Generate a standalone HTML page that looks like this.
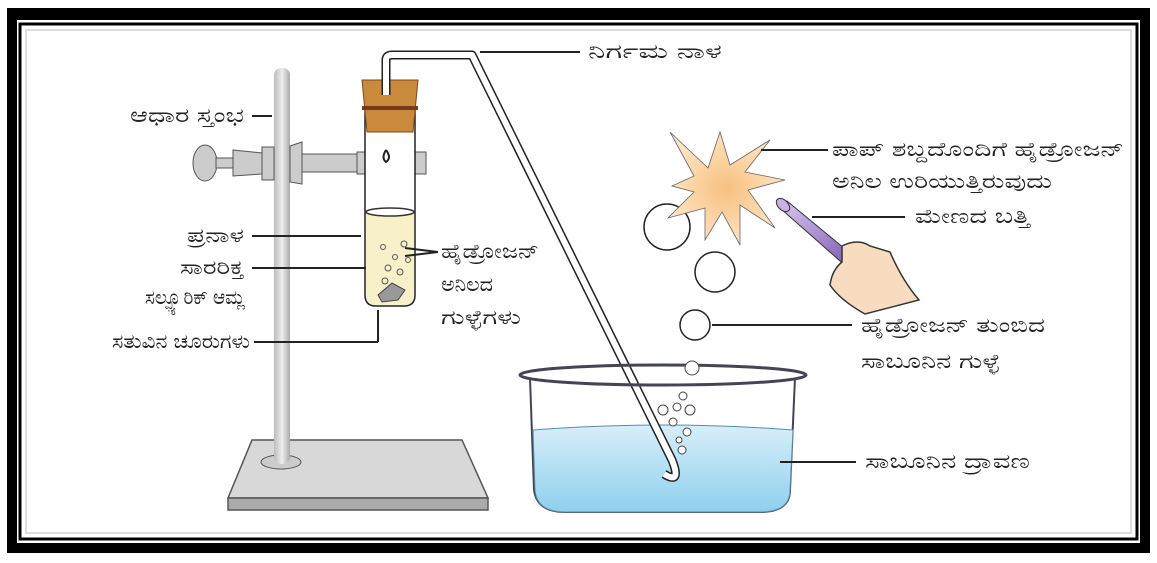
<!DOCTYPE html>
<html><head><meta charset="utf-8"><style>
html,body{margin:0;padding:0;background:#fff;}
svg{display:block}
text{font-family:"Liberation Sans","Noto Sans CJK SC",sans-serif;font-size:20px;fill:#222}
</style></head><body>
<svg width="1157" height="563" viewBox="0 0 1157 563" xmlns="http://www.w3.org/2000/svg">
<defs>
<linearGradient id="rod" x1="0" x2="1"><stop offset="0" stop-color="#bbb"/><stop offset=".5" stop-color="#eee"/><stop offset="1" stop-color="#aaa"/></linearGradient>
<linearGradient id="water" x1="0" y1="0" x2="0" y2="1"><stop offset="0" stop-color="#d8eefa"/><stop offset="1" stop-color="#8fd0ee"/></linearGradient>
<radialGradient id="flash"><stop offset="0" stop-color="#f8c080"/><stop offset="1" stop-color="#fde4c0"/></radialGradient>
<linearGradient id="candle" x1="0" y1="0" x2="1" y2="1"><stop offset="0" stop-color="#d8c8f0"/><stop offset="1" stop-color="#7a55b0"/></linearGradient>
</defs>
<rect x="7" y="8" width="1143" height="545" fill="#000"/>
<rect x="17" y="20" width="1123" height="523" fill="#fff"/>
<rect x="20" y="24" width="1117" height="515" fill="none" stroke="#000" stroke-width="3"/>
<rect x="26" y="30" width="1105" height="503" fill="#fff" stroke="#ddd" stroke-width="2"/>

<polygon points="252,440 462,440 488,498 228,498" fill="#d8d8d8" stroke="#555" stroke-width="1.5"/>
<polygon points="228,498 488,498 488,510 228,510" fill="#aaa" stroke="#555" stroke-width="1.5"/>
<ellipse cx="281" cy="462" rx="20" ry="7" fill="#ccc" stroke="#555"/>
<rect x="274" y="68" width="16" height="396" rx="7" fill="url(#rod)"/>
<ellipse cx="205" cy="163" rx="12" ry="18" fill="#ccc" stroke="#555"/>
<rect x="216" y="158" width="18" height="10" fill="#ccc" stroke="#555"/>
<polygon points="233,150 262,153 262,174 233,176" fill="#ccc" stroke="#555"/>
<polygon points="262,147 274,147 274,180 262,180" fill="#ccc" stroke="#555"/>
<polygon points="290,146 302,142 302,184 290,182" fill="#ccc" stroke="#555"/>
<rect x="302" y="154" width="55" height="18" fill="#ccc" stroke="#555"/>
<rect x="357" y="152" width="9" height="22" fill="#ccc" stroke="#555"/>
<rect x="414" y="152" width="12" height="22" fill="#ccc" stroke="#555"/>
<path d="M365,100 V295 Q365,306 376,306 H404 Q415,306 415,295 V100" fill="#fff" stroke="#222" stroke-width="1.5"/>
<path d="M366,212 V295 Q366,305 376,305 H404 Q414,305 414,295 V212 Z" fill="#f7f0c8"/>
<ellipse cx="390" cy="212" rx="24" ry="4" fill="#fff" stroke="#333" stroke-width="1.5"/>
<g fill="none" stroke="#555"><circle cx="383" cy="247" r="2.5"/><circle cx="395" cy="257" r="2.5"/><circle cx="404" cy="244" r="3"/><circle cx="388" cy="268" r="3"/><circle cx="400" cy="272" r="3"/><circle cx="385" cy="281" r="3"/><circle cx="408" cy="260" r="2.5"/></g>
<polygon points="378,295 392,283 405,290 398,300 382,302" fill="#999" stroke="#444"/>
<polygon points="362,80 418,80 413,132 367,132" fill="#c98a3c" stroke="#7a4a1a"/>
<rect x="362" y="106" width="56" height="4" fill="#7a3a1a"/>
<path d="M386,150 q-5,8 0,12 q6,-4 0,-12" fill="none" stroke="#222" stroke-width="2"/>
<path d="M530,378 L534,490 Q537,512 565,512 H760 Q790,512 790,490 L795,378" fill="#fff" stroke="#445" stroke-width="2"/>
<path d="M533,430 Q660,420 793,430 L790,490 Q790,512 760,512 H565 Q537,512 535,490 Z" fill="url(#water)" stroke="#5a8ca8"/>
<g fill="#fff" stroke="#444"><circle cx="663" cy="410" r="5"/><circle cx="677" cy="407" r="4"/><circle cx="690" cy="410" r="5"/><circle cx="673" cy="422" r="4"/><circle cx="687" cy="432" r="4"/><circle cx="679" cy="440" r="3"/><circle cx="682" cy="450" r="4"/><circle cx="683" cy="396" r="4"/></g>
<path d="M386,95 V60 Q386,55 392,55 H472 L672,460 Q682,485 664,474" fill="none" stroke="#222" stroke-width="9" stroke-linejoin="round"/>
<path d="M386,95 V60 Q386,55 392,55 H472 L672,460 Q682,485 664,474" fill="none" stroke="#fff" stroke-width="6" stroke-linejoin="round"/>
<ellipse cx="663" cy="375" rx="143" ry="10" fill="none" stroke="#445" stroke-width="3"/>
<circle cx="692" cy="368" r="7" fill="#fff" stroke="#444"/>
<g fill="none" stroke="#222" stroke-width="1.5"><circle cx="667" cy="227" r="23"/><circle cx="715" cy="272" r="20"/><circle cx="695" cy="325" r="15"/></g>
<polygon points="670,132 708,168 720,132 730,165 770,140 745,172 785,180 748,190 775,228 740,205 740,245 722,212 705,240 705,208 668,218 694,192 672,186 694,176" fill="url(#flash)" stroke="#666" stroke-width="0.8"/>
<polygon points="780,208 787,201 856,258 848,268" fill="url(#candle)" stroke="#333"/>
<ellipse cx="783" cy="205" rx="5" ry="8" transform="rotate(-45 783 205)" fill="#c8b0e8" stroke="#333"/>
<path d="M842,246 Q858,238 870,246 L890,252 Q902,280 919,300 L865,314 Q840,300 830,285 Q832,270 842,262 Z" fill="#f8dcc0" stroke="#333" stroke-width="1.5"/>
<g stroke="#222" stroke-width="2" fill="none">
<line x1="252" y1="116" x2="272" y2="116"/>
<line x1="480" y1="52" x2="580" y2="52"/>
<line x1="252" y1="236" x2="361" y2="236"/>
<line x1="252" y1="268" x2="366" y2="268"/>
<line x1="254" y1="342" x2="378" y2="342"/><line x1="378" y1="342" x2="378" y2="310"/>
<line x1="405" y1="248" x2="438" y2="252"/><line x1="405" y1="256" x2="438" y2="252"/>
<line x1="761" y1="150" x2="828" y2="150"/>
<line x1="812" y1="217" x2="905" y2="217"/>
<line x1="712" y1="325" x2="852" y2="325"/>
<line x1="780" y1="462" x2="856" y2="462"/>
</g>
<g>
<text x="130" y="122" textLength="114" lengthAdjust="spacingAndGlyphs">ಆಧಾರ ಸ್ತಂಭ</text>
<text x="588" y="58" textLength="134" lengthAdjust="spacingAndGlyphs">ನಿರ್ಗಮ ನಾಳ</text>
<text x="187" y="242" textLength="57" lengthAdjust="spacingAndGlyphs">ಪ್ರನಾಳ</text>
<text x="180" y="274" textLength="64" lengthAdjust="spacingAndGlyphs">ಸಾರರಿಕ್ತ</text>
<text x="145" y="304" textLength="100" lengthAdjust="spacingAndGlyphs">ಸಲ್ಫ್ಯೂರಿಕ್ ಆಮ್ಲ</text>
<text x="112" y="348" textLength="138" lengthAdjust="spacingAndGlyphs">ಸತುವಿನ ಚೂರುಗಳು</text>
<text x="441" y="258" textLength="98" lengthAdjust="spacingAndGlyphs">ಹೈಡ್ರೋಜನ್</text>
<text x="441" y="291" textLength="52" lengthAdjust="spacingAndGlyphs">ಅನಿಲದ</text>
<text x="441" y="324" textLength="80" lengthAdjust="spacingAndGlyphs">ಗುಳ್ಳೆಗಳು</text>
<text x="832" y="156" textLength="292" lengthAdjust="spacingAndGlyphs">ಪಾಪ್ ಶಬ್ದದೊಂದಿಗೆ ಹೈಡ್ರೋಜನ್</text>
<text x="832" y="188" textLength="220" lengthAdjust="spacingAndGlyphs">ಅನಿಲ ಉರಿಯುತ್ತಿರುವುದು</text>
<text x="915" y="223" textLength="115" lengthAdjust="spacingAndGlyphs">ಮೇಣದ ಬತ್ತಿ</text>
<text x="861" y="332" textLength="184" lengthAdjust="spacingAndGlyphs">ಹೈಡ್ರೋಜನ್ ತುಂಬಿದ</text>
<text x="861" y="368" textLength="139" lengthAdjust="spacingAndGlyphs">ಸಾಬೂನಿನ ಗುಳ್ಳೆ</text>
<text x="865" y="468" textLength="165" lengthAdjust="spacingAndGlyphs">ಸಾಬೂನಿನ ದ್ರಾವಣ</text>
</g>
</svg>
</body></html>
